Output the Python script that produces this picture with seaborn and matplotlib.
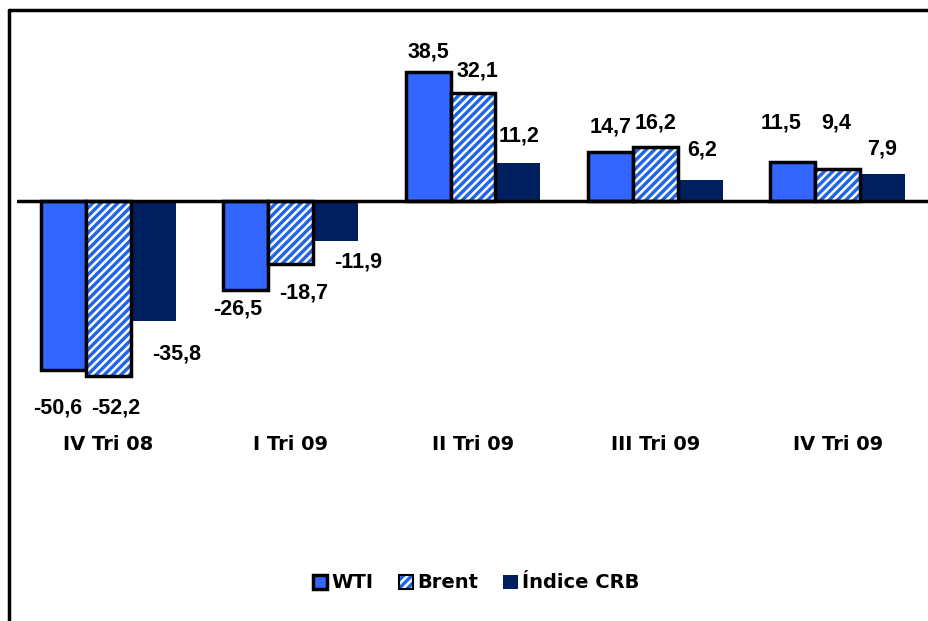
import numpy as np
import pandas as pd
import matplotlib.pyplot as plt
import matplotlib.patches as mpatches
from matplotlib.lines import Line2D
import seaborn as sns

# Data (% change per quarter)
quarters = ['IV Tri 08', 'I Tri 09', 'II Tri 09', 'III Tri 09', 'IV Tri 09']
series = ['WTI', 'Brent', 'Índice CRB']
wti = [-50.6, -26.5, 38.5, 14.7, 11.5]
brent = [-52.2, -18.7, 32.1, 16.2, 9.4]
crb = [-35.8, -11.9, 11.2, 6.2, 7.9]

# Label offsets (pixels) so labels sit roughly where the original had them
offsets = {
    'WTI': [(-6, -38), (-8, -19), (0, 20), (0, 25), (-12, 39)],
    'Brent': [(8, -32), (13, -29), (4, 22), (0, 24), (-2, 46)],
    'Índice CRB': [(23, -33), (23, -21), (1, 27), (2, 30), (-1, 25)],
}

colors = {'WTI': '#3366ff', 'Brent': '#1f66e6', 'Índice CRB': '#001f5f'}

df = pd.DataFrame({
    'Trimestre': quarters * 3,
    'Serie': [s for s in series for _ in quarters],
    'Valor': wti + brent + crb,
})

sns.set_theme(style='white')
plt.rcParams['font.family'] = ['DejaVu Sans']
plt.rcParams['text.color'] = 'black'
plt.rcParams['xtick.color'] = 'black'
plt.rcParams['hatch.linewidth'] = 1.8

fig = plt.figure(figsize=(9.29, 6.21), dpi=100)
ax = fig.add_axes([17 / 929, 1 - 425 / 621, 1 - 17 / 929, 415 / 621])

sns.barplot(data=df, x='Trimestre', y='Valor', hue='Serie', palette=colors,
            width=0.74, gap=0, ax=ax, legend=False, saturation=1)

for name, cont in zip(series, ax.containers):
    for bar in cont:
        if name == 'WTI':
            bar.set_edgecolor('black')
            bar.set_linewidth(2.5)
        elif name == 'Brent':
            bar.set_edgecolor('white')
            bar.set_hatch('////')
            bar.set_linewidth(0)
            ax.add_patch(mpatches.Rectangle(bar.get_xy(), bar.get_width(), bar.get_height(),
                                            fill=False, edgecolor='black', linewidth=2.5, zorder=3))
        else:
            bar.set_linewidth(0)

vals = {'WTI': wti, 'Brent': brent, 'Índice CRB': crb}
for name, cont in zip(series, ax.containers):
    for bar, v, off in zip(cont, vals[name], offsets[name]):
        x = bar.get_x() + bar.get_width() / 2
        ax.annotate(f'{v:.1f}'.replace('.', ','), (x, v), xytext=off,
                    textcoords='offset pixels', ha='center', va='center',
                    fontsize=15.5, fontweight='bold', color='black',
                    family='Liberation Sans', annotation_clip=False)

ax.axhline(0, color='black', linewidth=2.5, zorder=4)
ax.set_ylim(-66.9, 57.0)
ax.set_xlim(-0.5, 4.5)
ax.set_yticks([])
ax.set_xlabel('')
ax.set_ylabel('')
ax.tick_params(axis='x', length=0, pad=7)
for lbl in ax.get_xticklabels():
    lbl.set_fontsize(14)
    lbl.set_fontweight('bold')
for s in ax.spines.values():
    s.set_visible(False)

# legend
brent_fill = mpatches.Patch(facecolor=colors['Brent'], edgecolor='white', hatch='////', linewidth=0)
brent_edge = mpatches.Patch(facecolor='none', edgecolor='black', linewidth=1.5)
handles = [
    mpatches.Patch(facecolor=colors['WTI'], edgecolor='black', linewidth=2.5),
    (brent_fill, brent_edge),
    mpatches.Patch(facecolor=colors['Índice CRB'], edgecolor='none'),
]
fig.legend(handles=handles, labels=series, loc='center', bbox_to_anchor=(476 / 929, 1 - 583 / 621),
           ncol=3, frameon=False, handlelength=0.75, handleheight=0.75,
           handletextpad=0.2, columnspacing=1.3, prop={'weight': 'bold', 'size': 14})

# outer frame (top and left edges visible)
fig.add_artist(Line2D([9 / 929, 9 / 929], [0, 1 - 10 / 621], color='black', linewidth=2.5))
fig.add_artist(Line2D([9 / 929, 1], [1 - 10 / 621, 1 - 10 / 621], color='black', linewidth=2.5))

fig.savefig('out.png', dpi=100)
